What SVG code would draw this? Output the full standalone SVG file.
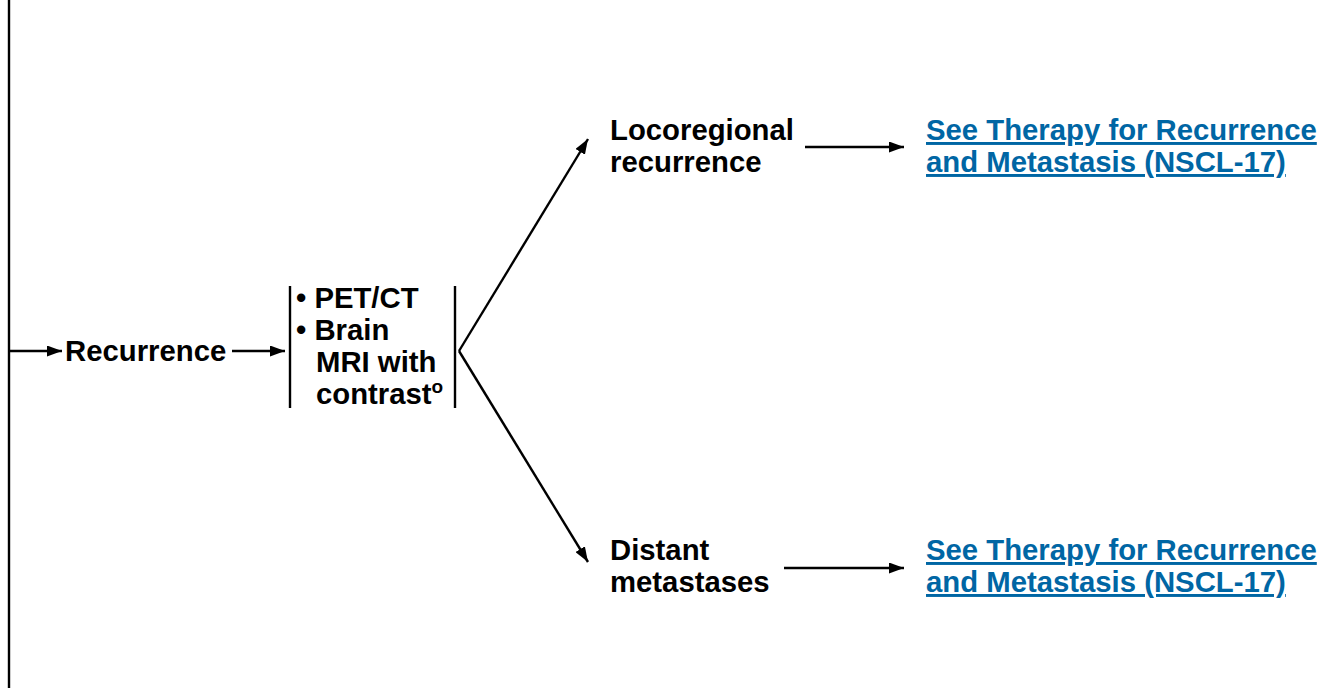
<svg xmlns="http://www.w3.org/2000/svg" width="1320" height="688" viewBox="0 0 1320 688">
<style>
text{font-family:"Liberation Sans",Arial,sans-serif;font-weight:bold;font-size:29.3px;fill:#000}
.link{fill:#0066a4;text-decoration:underline}
.ln{stroke:#000;stroke-width:2.4;fill:none}
</style>
<defs>
<marker id="ah" viewBox="0 0 15 11" refX="15" refY="5.5" markerWidth="15" markerHeight="11" markerUnits="userSpaceOnUse" orient="auto">
<path d="M0,0 L15,5.5 L0,11 Z" fill="#000"/>
</marker>
</defs>
<rect width="1320" height="688" fill="#fff"/>
<g id="connectors">
<line class="ln" x1="9" y1="0" x2="9" y2="688"/>
<line class="ln" x1="9" y1="351" x2="62" y2="351" marker-end="url(#ah)"/>
<line class="ln" x1="232" y1="351" x2="285" y2="351" marker-end="url(#ah)"/>
<line class="ln" x1="459" y1="351" x2="588" y2="139" marker-end="url(#ah)"/>
<line class="ln" x1="459" y1="351" x2="588" y2="562" marker-end="url(#ah)"/>
<line class="ln" x1="805" y1="147" x2="904" y2="147" marker-end="url(#ah)"/>
<line class="ln" x1="784" y1="568" x2="904" y2="568" marker-end="url(#ah)"/>
</g>
<g id="recurrence">
<text x="65" y="361">Recurrence</text>
</g>
<g id="workup">
<line class="ln" x1="290" y1="286" x2="290" y2="408"/>
<line class="ln" x1="455" y1="286" x2="455" y2="408"/>
<text x="296" y="308">• PET/CT</text>
<text x="296" y="340">• Brain</text>
<text x="316" y="372">MRI with</text>
<text x="316" y="404">contrast<tspan font-size="19" dy="-11">o</tspan></text>
</g>
<g id="locoregional">
<text x="610" y="140">Locoregional</text>
<text x="610" y="172">recurrence</text>
</g>
<g id="distant">
<text x="610" y="560">Distant</text>
<text x="610" y="592">metastases</text>
</g>
<g id="link1">
<text class="link" x="926" y="140">See Therapy for Recurrence</text>
<text class="link" x="926" y="172">and Metastasis (NSCL-17)</text>
</g>
<g id="link2">
<text class="link" x="926" y="560">See Therapy for Recurrence</text>
<text class="link" x="926" y="592">and Metastasis (NSCL-17)</text>
</g>
</svg>
